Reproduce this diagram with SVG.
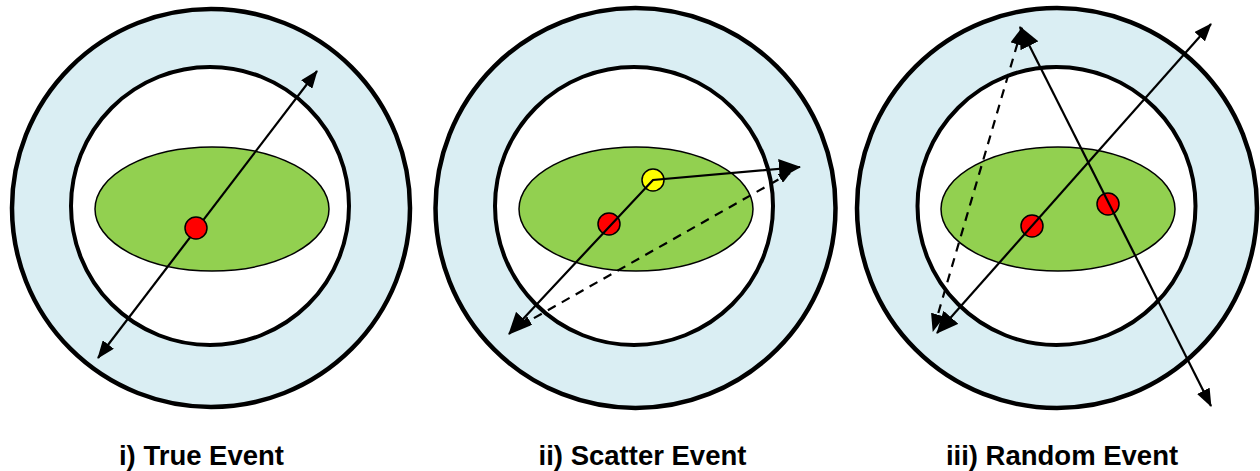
<svg xmlns="http://www.w3.org/2000/svg" width="1260" height="471" viewBox="0 0 1260 471">
<style>
.outer{fill:#DAEEF3;stroke:#000;stroke-width:4.5}
.inner{fill:#fff;stroke:#000;stroke-width:4}
.body{fill:#92D050;stroke:#000;stroke-width:1.5}
.red{fill:#FF0000;stroke:#000;stroke-width:1.5}
.yel{fill:#FFFF00;stroke:#000;stroke-width:1.5}
.ln{stroke:#000;stroke-width:2.2;fill:none}
.dash{stroke-dasharray:9 7}
.lbl{font-family:"Liberation Sans",Arial,sans-serif;font-weight:bold;font-size:27.5px;text-anchor:middle;fill:#000}
</style>
<defs>
<marker id="ah" markerUnits="userSpaceOnUse" markerWidth="18" markerHeight="14" refX="17" refY="7" orient="auto-start-reverse" viewBox="0 0 18 14">
<path d="M0,0 L18,7 L0,14 z" fill="#000"/>
</marker>
<marker id="ahb" markerUnits="userSpaceOnUse" markerWidth="22" markerHeight="20" refX="21" refY="10" orient="auto-start-reverse" viewBox="0 0 22 20">
<path d="M0,0 L22,10 L0,20 z" fill="#000"/>
</marker>
<marker id="ahs" markerUnits="userSpaceOnUse" markerWidth="12" markerHeight="10" refX="11" refY="5" orient="auto-start-reverse" viewBox="0 0 12 10">
<path d="M0,0 L12,5 L0,10 z" fill="#000"/>
</marker>
</defs>
<rect width="1260" height="471" fill="#fff"/>
<g id="panel1">
<circle class="outer" cx="211" cy="208" r="199"/>
<circle class="inner" cx="210" cy="206" r="139"/>
<ellipse class="body" cx="212" cy="209" rx="117" ry="62"/>
</g>
<g id="panel2">
<circle class="outer" cx="635.5" cy="208" r="200"/>
<circle class="inner" cx="634" cy="206" r="139"/>
<ellipse class="body" cx="636" cy="209" rx="117" ry="62"/>
</g>
<g id="panel3">
<circle class="outer" cx="1057" cy="208" r="200"/>
<circle class="inner" cx="1056.5" cy="206" r="139"/>
<ellipse class="body" cx="1058" cy="209" rx="117" ry="62"/>
</g>
<g id="dot2-red"><circle class="red" cx="609" cy="224" r="11"/></g>
<g id="dot2-yellow"><circle class="yel" cx="653" cy="180" r="11"/></g>
<g id="dot3-red-a"><circle class="red" cx="1032" cy="226" r="11"/></g>
<g id="dot3-red-b"><circle class="red" cx="1108" cy="204" r="11"/></g>
<g id="connectors">
<line class="ln" x1="98" y1="358" x2="317" y2="71" marker-start="url(#ah)" marker-end="url(#ah)"/>
<polyline class="ln" points="509,334 653,180 800,167" marker-start="url(#ahb)" marker-end="url(#ahb)"/>
<line class="ln dash" x1="520" y1="326" x2="790" y2="173" marker-start="url(#ahs)" marker-end="url(#ahs)"/>
<line class="ln" x1="937" y1="333" x2="1211" y2="24" marker-start="url(#ahb)" marker-end="url(#ah)"/>
<line class="ln" x1="1020" y1="27" x2="1211" y2="406" marker-start="url(#ahb)" marker-end="url(#ah)"/>
<line class="ln dash" x1="1022" y1="28" x2="933" y2="331" marker-start="url(#ah)" marker-end="url(#ah)"/>
</g>
<g id="dot1-red"><circle class="red" cx="196" cy="228" r="11"/></g>
<g id="labels">
<text class="lbl" x="201.5" y="465">i) True Event</text>
<text class="lbl" x="642.5" y="465">ii) Scatter Event</text>
<text class="lbl" x="1062" y="465">iii) Random Event</text>
</g>
</svg>
